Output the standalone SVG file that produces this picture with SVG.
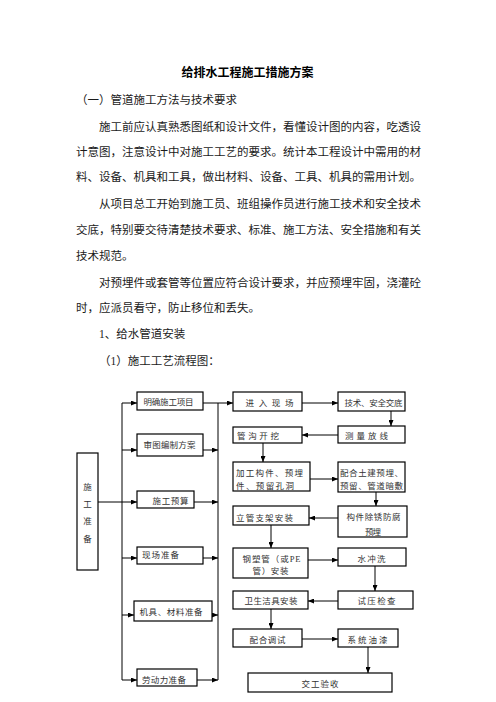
<svg xmlns="http://www.w3.org/2000/svg" width="496" height="702" viewBox="0 0 496 702">
<style>
.t{font-family:"Liberation Serif","Noto Sans CJK SC",serif;font-size:11.5px;fill:#1a1a1a}
.h{font-family:"Noto Sans CJK SC",sans-serif;font-size:12px;font-weight:bold;fill:#000}
.b{fill:#fff;stroke:#000;stroke-width:1.2}
.l{font-family:"Liberation Serif","Noto Sans CJK SC",serif;font-size:8.5px;fill:#333}
.c{stroke:#000;stroke-width:1;fill:none}
.a{marker-end:url(#ah)}
</style>
<defs>
<marker id="ah" markerUnits="userSpaceOnUse" markerWidth="6" markerHeight="5" refX="6" refY="2.5" orient="auto">
<path d="M0,0 L6,2.5 L0,5 z" fill="#000"/>
</marker>
</defs>
<rect width="496" height="702" fill="#fff"/>
<g id="text">
<text class="h" x="247.5" y="77" text-anchor="middle">给排水工程施工措施方案</text>
<text class="t" x="76" y="104">（一）管道施工方法与技术要求</text>
<text class="t" x="99" y="131">施工前应认真熟悉图纸和设计文件，看懂设计图的内容，吃透设</text>
<text class="t" x="76" y="156">计意图，注意设计中对施工工艺的要求。统计本工程设计中需用的材</text>
<text class="t" x="76" y="181">料、设备、机具和工具，做出材料、设备、工具、机具的需用计划。</text>
<text class="t" x="99" y="208">从项目总工开始到施工员、班组操作员进行施工技术和安全技术</text>
<text class="t" x="76" y="234">交底，特别要交待清楚技术要求、标准、施工方法、安全措施和有关</text>
<text class="t" x="76" y="260">技术规范。</text>
<text class="t" x="99" y="287">对预埋件或套管等位置应符合设计要求，并应预埋牢固，浇灌砼</text>
<text class="t" x="76" y="312">时，应派员看守，防止移位和丢失。</text>
<text class="t" x="99" y="338">1、给水管道安装</text>
<text class="t" x="99" y="365">（1）施工工艺流程图：</text>
</g>
<g id="connectors">
<line class="c a" x1="98" y1="502" x2="137" y2="502"/>
<line class="c" x1="122" y1="403" x2="122" y2="680"/>
<line class="c a" x1="122" y1="403" x2="137" y2="403"/>
<line class="c a" x1="122" y1="450" x2="137" y2="450"/>
<line class="c a" x1="122" y1="558" x2="137" y2="558"/>
<line class="c a" x1="122" y1="615" x2="134" y2="615"/>
<line class="c a" x1="122" y1="680" x2="137" y2="680"/>
<line class="c" x1="218" y1="403" x2="218" y2="680"/>
<line class="c a" x1="203" y1="403" x2="233" y2="403"/>
<line class="c a" x1="203" y1="450" x2="218" y2="450"/>
<line class="c a" x1="194" y1="502" x2="218" y2="502"/>
<line class="c a" x1="203" y1="558" x2="218" y2="558"/>
<line class="c a" x1="212" y1="615" x2="218" y2="615"/>
<line class="c a" x1="197" y1="680" x2="218" y2="680"/>
<line class="c a" x1="302" y1="403" x2="338" y2="403"/>
<line class="c a" x1="391" y1="411" x2="391" y2="426"/>
<line class="c a" x1="338" y1="435" x2="302" y2="435"/>
<line class="c a" x1="263" y1="443" x2="263" y2="462"/>
<line class="c a" x1="310" y1="479" x2="338" y2="479"/>
<line class="c a" x1="376" y1="492" x2="376" y2="506"/>
<line class="c a" x1="338" y1="518" x2="309" y2="518"/>
<line class="c a" x1="271" y1="525" x2="271" y2="548"/>
<line class="c a" x1="308" y1="560" x2="338" y2="560"/>
<line class="c a" x1="375" y1="566" x2="375" y2="591"/>
<line class="c a" x1="338" y1="601" x2="308" y2="601"/>
<line class="c a" x1="271" y1="609" x2="271" y2="629"/>
<line class="c a" x1="302" y1="639" x2="338" y2="639"/>
<line class="c a" x1="368" y1="647" x2="368" y2="673"/>
</g>
<g id="n-shigongzhunbei">
<rect class="b" x="77" y="453" width="21" height="117"/>
<text class="l" x="87.5" y="489.5" text-anchor="middle" font-size="9.5">施</text>
<text class="l" x="87.5" y="506.5" text-anchor="middle" font-size="9.5">工</text>
<text class="l" x="87.5" y="523.5" text-anchor="middle" font-size="9.5">准</text>
<text class="l" x="87.5" y="541.5" text-anchor="middle" font-size="9.5">备</text>
</g>
<g id="n-mingque"><rect class="b" x="137" y="392" width="66" height="18"/><text class="l" x="168.5" y="405" text-anchor="middle" font-size="8.2" textLength="50">明确施工项目</text></g>
<g id="n-shentu"><rect class="b" x="137" y="434" width="66" height="22"/><text class="l" x="169.5" y="448" text-anchor="middle" textLength="52">审图编制方案</text></g>
<g id="n-yusuan"><rect class="b" x="137" y="491" width="57" height="17"/><text class="l" x="170.5" y="504" text-anchor="middle" textLength="36">施工预算</text></g>
<g id="n-xianchang"><rect class="b" x="137" y="547" width="66" height="17"/><text class="l" x="142" y="558" textLength="37">现场准备</text></g>
<g id="n-jiju"><rect class="b" x="134" y="601" width="78" height="20"/><text class="l" x="171" y="615" text-anchor="middle" textLength="63">机具、材料准备</text></g>
<g id="n-laodongli"><rect class="b" x="137" y="669" width="60" height="17"/><text class="l" x="142" y="683" textLength="44">劳动力准备</text></g>
<g id="n-jinru"><rect class="b" x="233" y="392" width="69" height="19"/><text class="l" x="269.5" y="406" text-anchor="middle" textLength="48">进入现场</text></g>
<g id="n-jishu"><rect class="b" x="338" y="392" width="67" height="19"/><text class="l" x="373.5" y="406" text-anchor="middle" font-size="8.2" textLength="58">技术、安全交底</text></g>
<g id="n-celiang"><rect class="b" x="338" y="426" width="67" height="17"/><text class="l" x="345" y="439" textLength="43">测量放线</text></g>
<g id="n-guangou"><rect class="b" x="233" y="427" width="69" height="16"/><text class="l" x="237" y="439" textLength="42">管沟开挖</text></g>
<g id="n-jiagong"><rect class="b" x="233" y="462" width="77" height="29"/><text class="l" x="236" y="476" textLength="67">加工构件、预埋</text><text class="l" x="236" y="489" textLength="58">件、预留孔洞</text></g>
<g id="n-peihe"><rect class="b" x="338" y="462" width="67" height="30"/><text class="l" x="340" y="476" textLength="63">配合土建预埋、</text><text class="l" x="340" y="489" textLength="63">预留、管道暗敷</text></g>
<g id="n-chuxiu"><rect class="b" x="338" y="506" width="69" height="31"/><text class="l" x="373.5" y="520" text-anchor="middle" textLength="54">构件除锈防腐</text><text class="l" x="373" y="535" text-anchor="middle" textLength="16">预埋</text></g>
<g id="n-ligan"><rect class="b" x="233" y="506" width="76" height="19"/><text class="l" x="236" y="521" textLength="57">立管支架安装</text></g>
<g id="n-gangsu"><rect class="b" x="233" y="548" width="75" height="30"/><text class="l" x="271.5" y="562" text-anchor="middle" textLength="58">钢塑管（或PE</text><text class="l" x="270.5" y="574" text-anchor="middle" textLength="36">管）安装</text></g>
<g id="n-shuichong"><rect class="b" x="338" y="548" width="68" height="18"/><text class="l" x="371.5" y="562" text-anchor="middle" textLength="28">水冲洗</text></g>
<g id="n-shiya"><rect class="b" x="338" y="591" width="75" height="18"/><text class="l" x="376.5" y="604" text-anchor="middle" textLength="38">试压检查</text></g>
<g id="n-weisheng"><rect class="b" x="233" y="591" width="75" height="18"/><text class="l" x="271" y="604" text-anchor="middle" textLength="53">卫生洁具安装</text></g>
<g id="n-tiaoshi"><rect class="b" x="233" y="629" width="69" height="18"/><text class="l" x="267.5" y="643" text-anchor="middle" textLength="36">配合调试</text></g>
<g id="n-youqi"><rect class="b" x="338" y="629" width="60" height="18"/><text class="l" x="367.5" y="643" text-anchor="middle" textLength="40">系统油漆</text></g>
<g id="n-jiaogong"><rect class="b" x="248" y="673" width="144" height="19"/><text class="l" x="320" y="687" text-anchor="middle" textLength="37">交工验收</text></g>
</svg>
